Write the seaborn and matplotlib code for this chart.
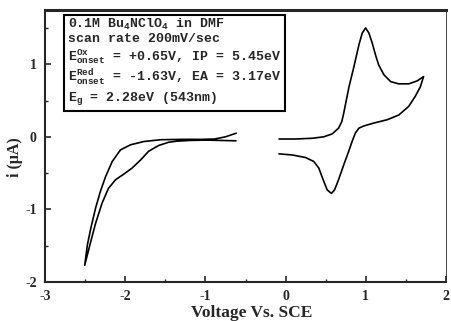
import matplotlib
matplotlib.use("Agg")
import matplotlib.pyplot as plt
import pandas as pd
import seaborn as sns
from matplotlib.ticker import MultipleLocator

# reduction sweep: inner branch going negative, outer branch coming back
red_v = [-0.62, -0.80, -1.0, -1.2, -1.36, -1.46, -1.585, -1.71, -1.81, -1.915, -2.02,
         -2.12, -2.21, -2.29, -2.37, -2.43, -2.506,
         -2.473, -2.43, -2.37, -2.31, -2.246, -2.163, -2.06, -1.935, -1.77, -1.56, -1.3,
         -1.05, -0.885, -0.75, -0.617]
red_i = [-0.055, -0.05, -0.045, -0.05, -0.06, -0.075, -0.12, -0.20, -0.32, -0.43, -0.515,
         -0.59, -0.71, -0.915, -1.19, -1.44, -1.77,
         -1.49, -1.26, -0.98, -0.75, -0.55, -0.34, -0.18, -0.11, -0.065, -0.04, -0.035,
         -0.035, -0.03, 0.0, 0.05]

# oxidation cycle
ox_v = [-0.083, 0.124, 0.33, 0.475, 0.58, 0.66, 0.70, 0.725, 0.79, 0.852, 0.914, 0.955,
        0.997, 1.038, 1.08, 1.12, 1.16, 1.225, 1.31, 1.41, 1.535, 1.64, 1.72, 1.68, 1.617,
        1.535, 1.41, 1.265, 1.10, 0.976, 0.914, 0.868, 0.83, 0.786, 0.723, 0.66, 0.61, 0.57,
        0.517, 0.467, 0.413, 0.351, 0.248, 0.083, -0.083]
ox_i = [-0.03, -0.03, -0.02, 0.0, 0.04, 0.12, 0.21, 0.33, 0.69, 0.97, 1.27, 1.43, 1.50,
        1.43, 1.29, 1.13, 0.99, 0.855, 0.76, 0.73, 0.73, 0.77, 0.83, 0.69, 0.56, 0.42, 0.30,
        0.235, 0.19, 0.15, 0.12, 0.05, -0.06, -0.20, -0.39, -0.59, -0.73, -0.78, -0.73,
        -0.59, -0.43, -0.34, -0.285, -0.25, -0.235]

info_lines = [
    "0.1M Bu$_4$NClO$_4$ in DMF",
    "scan rate 200mV/sec",
    "E$^{Ox}_{onset}$ = +0.65V, IP = 5.45eV",
    "E$^{Red}_{onset}$ = -1.63V, EA = 3.17eV",
    "E$_g$ = 2.28eV (543nm)",
]

df = pd.concat([
    pd.DataFrame({"V": red_v, "i": red_i, "scan": "red"}),
    pd.DataFrame({"V": ox_v, "i": ox_i, "scan": "ox"}),
])

sns.set_style("ticks")
plt.rcParams["font.family"] = ["Liberation Serif", "DejaVu Serif"]
plt.rcParams["axes.unicode_minus"] = False
plt.rcParams["mathtext.fontset"] = "custom"
plt.rcParams["mathtext.rm"] = "Liberation Mono:bold"
plt.rcParams["mathtext.it"] = "Liberation Mono:bold"
plt.rcParams["mathtext.bf"] = "Liberation Mono:bold"
plt.rcParams["mathtext.default"] = "rm"

fig = plt.figure(figsize=(4.51, 3.21), dpi=100)
ax = fig.add_axes([0.1, 0.1215, 0.889, 0.848])

for scan, grp in df.groupby("scan", sort=False):
    sns.lineplot(data=grp, x="V", y="i", sort=False, estimator=None,
                 color="black", lw=1.2, ax=ax)

ax.set_xlim(-3, 2)
ax.set_ylim(-2, 1.75)
ax.xaxis.set_major_locator(MultipleLocator(1))
ax.xaxis.set_minor_locator(MultipleLocator(0.5))
ax.yaxis.set_major_locator(MultipleLocator(1))
ax.yaxis.set_minor_locator(MultipleLocator(0.5))
ax.tick_params(which="both", direction="in", top=False, right=False)
ax.tick_params(which="major", length=4, width=1.2, labelsize=10, pad=6)
ax.tick_params(which="minor", length=2.5, width=1)
for lab in ax.get_xticklabels() + ax.get_yticklabels():
    lab.set_fontweight("bold")

for side in ["left", "bottom"]:
    ax.spines[side].set_linewidth(1.5)
ax.spines["top"].set_linewidth(2.2)
ax.spines["right"].set_linewidth(0.6)

ax.set_xlabel("Voltage Vs. SCE", fontsize=12.5, fontweight="bold")
ax.xaxis.set_label_coords(0.515, -0.085)
ax.set_ylabel("i (μA)", fontsize=11.5, fontweight="bold")
ax.yaxis.set_label_coords(-0.055, 0.46)

ax.text(0.058, 0.975, "\n".join(info_lines), transform=ax.transAxes,
        ha="left", va="top", fontsize=9.5, family="Liberation Mono",
        fontweight="bold", linespacing=1.15,
        bbox=dict(boxstyle="square,pad=0.3", fc="white", ec="black", lw=1.5))

fig.savefig("out.png", dpi=100)
